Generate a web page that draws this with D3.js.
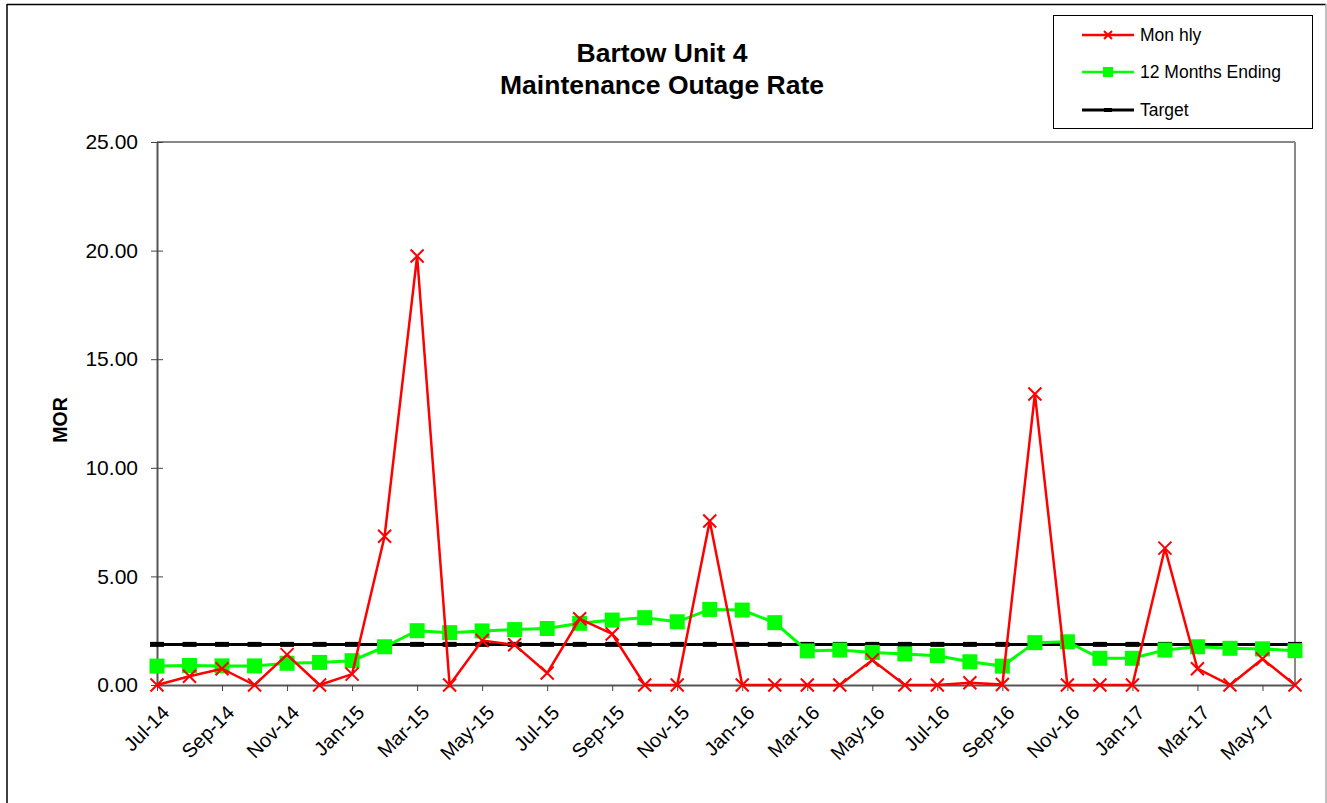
<!DOCTYPE html>
<html><head><meta charset="utf-8">
<script src="https://cdn.jsdelivr.net/npm/d3@7"></script>
<style>body{margin:0;background:#fff;font-family:Arial,"Liberation Sans",sans-serif;}</style>
</head><body>
<svg id="c" width="1327" height="803"></svg>
<script>
const categories = ["Jul-14","Aug-14","Sep-14","Oct-14","Nov-14","Dec-14","Jan-15","Feb-15","Mar-15","Apr-15","May-15","Jun-15",
"Jul-15","Aug-15","Sep-15","Oct-15","Nov-15","Dec-15","Jan-16","Feb-16","Mar-16","Apr-16","May-16","Jun-16",
"Jul-16","Aug-16","Sep-16","Oct-16","Nov-16","Dec-16","Jan-17","Feb-17","Mar-17","Apr-17","May-17","Jun-17"];
const monthly = [0,0.4,0.75,0,1.4,0,0.5,6.85,19.75,0,2.05,1.85,
0.55,3.05,2.35,0,0,7.55,0,0,0,0,1.15,0,
0,0.1,0.02,13.4,0,0,0,6.3,0.75,0,1.2,0];
const twelveMonths = [0.87,0.9,0.88,0.88,1.0,1.04,1.12,1.76,2.5,2.41,2.49,2.55,
2.6,2.84,2.99,3.1,2.91,3.48,3.45,2.87,1.57,1.61,1.5,1.43,
1.35,1.07,0.87,1.95,1.99,1.23,1.23,1.61,1.76,1.69,1.66,1.58];
const target = categories.map(() => 1.87);
const yTicks = [0,5,10,15,20,25];
const seriesNames = ["Mon hly","12 Months Ending","Target"];

const FONT = "Arial, Liberation Sans, sans-serif";
const svg = d3.select("#c");
const L=157,R=1295,T=142,B=685;
// outer border
svg.append("line").attr("x1",7).attr("x2",7).attr("y1",4).attr("y2",803).attr("stroke","#000").attr("stroke-width",1.5);
svg.append("line").attr("x1",7).attr("x2",1326).attr("y1",4.5).attr("y2",4.5).attr("stroke","#000").attr("stroke-width",1.5);
svg.append("line").attr("x1",1326).attr("x2",1326).attr("y1",4).attr("y2",803).attr("stroke","#aaa").attr("stroke-width",1.5);

const x = d3.scalePoint().domain(categories).range([L,R]);
const y = d3.scaleLinear().domain([0,25]).range([B,T]);

// plot frame
svg.append("line").attr("x1",L).attr("x2",R).attr("y1",T).attr("y2",T).attr("stroke","#888").attr("stroke-width",2);
svg.append("line").attr("x1",R).attr("x2",R).attr("y1",T).attr("y2",B).attr("stroke","#888").attr("stroke-width",2);

// y axis
const yAx = svg.append("g").attr("transform",`translate(${L},0)`)
  .call(d3.axisLeft(y).tickValues(yTicks).tickFormat(d3.format(".2f")).tickSizeInner(6).tickSizeOuter(0).tickPadding(13));
yAx.select(".domain").attr("stroke","#555").attr("stroke-width",2);
yAx.selectAll(".tick line").attr("stroke","#444").attr("x2",6).attr("x1",-6);
yAx.selectAll(".tick text").attr("font-size",21).attr("font-family",FONT).attr("fill","#000");

// x axis
const xAx = svg.append("g").attr("transform",`translate(0,${B})`)
  .call(d3.axisBottom(x).tickValues(categories.filter((d,i)=>i%2===0)).tickSizeInner(6).tickSizeOuter(0));
xAx.select(".domain").attr("stroke","#555").attr("stroke-width",2);
xAx.selectAll(".tick line").attr("stroke","#444");
xAx.selectAll(".tick text").attr("font-size",20).attr("font-family",FONT).attr("fill","#000")
  .attr("text-anchor","end").attr("x",0).attr("y",0).attr("dy",0).attr("transform","translate(13,29) rotate(-45)");

// lines
const line = d3.line().x((d,i)=>x(categories[i])).y(d=>y(d));
svg.append("path").datum(target).attr("d",line).attr("fill","none").attr("stroke","#000").attr("stroke-width",3);
svg.append("g").selectAll("rect").data(target).join("rect")
  .attr("x",(d,i)=>x(categories[i])-7).attr("y",d=>y(d)-2.5).attr("width",14).attr("height",5).attr("fill","#000");

svg.append("path").datum(twelveMonths).attr("d",line).attr("fill","none").attr("stroke","#00ff00").attr("stroke-width",3);
svg.append("g").selectAll("rect").data(twelveMonths).join("rect")
  .attr("x",(d,i)=>x(categories[i])-7.5).attr("y",d=>y(d)-7.5).attr("width",15).attr("height",15).attr("fill","#00ff00");

svg.append("path").datum(monthly).attr("d",line).attr("fill","none").attr("stroke","#ff0000").attr("stroke-width",2.5);
svg.append("g").selectAll("path").data(monthly).join("path")
  .attr("d",(d,i)=>{const cx=x(categories[i]),cy=y(d),s=6.5;return `M${cx-s},${cy-s}L${cx+s},${cy+s}M${cx-s},${cy+s}L${cx+s},${cy-s}`;})
  .attr("stroke","#ff0000").attr("stroke-width",2);

// title
svg.append("text").attr("x",662).attr("y",62).attr("text-anchor","middle").attr("font-size",26.5).attr("font-weight","bold").attr("font-family",FONT).text("Bartow Unit 4");
svg.append("text").attr("x",662).attr("y",94).attr("text-anchor","middle").attr("font-size",26.5).attr("font-weight","bold").attr("font-family",FONT).text("Maintenance Outage Rate");
// y label
svg.append("text").attr("transform","translate(67,420) rotate(-90)").attr("text-anchor","middle").attr("font-size",19.5).attr("font-weight","bold").attr("font-family",FONT).text("MOR");

// legend
const lg = svg.append("g");
lg.append("rect").attr("x",1053.5).attr("y",15.5).attr("width",259).attr("height",113).attr("fill","#fff").attr("stroke","#000").attr("stroke-width",1);
const ly=[35,72,110], lc=["#ff0000","#00ff00","#000"];
seriesNames.forEach((n,i)=>{
  lg.append("line").attr("x1",1082).attr("x2",1134).attr("y1",ly[i]).attr("y2",ly[i]).attr("stroke",lc[i]).attr("stroke-width",i===2?3:2.5);
  if(i===0){const cx=1108,cy=ly[i],s=4;lg.append("path").attr("d",`M${cx-s},${cy-s}L${cx+s},${cy+s}M${cx-s},${cy+s}L${cx+s},${cy-s}`).attr("stroke","#ff0000").attr("stroke-width",2);}
  if(i===1){lg.append("rect").attr("x",1103).attr("y",ly[i]-5).attr("width",10).attr("height",10).attr("fill","#00ff00");}
  if(i===2){lg.append("rect").attr("x",1104).attr("y",ly[i]-2).attr("width",8).attr("height",4).attr("fill","#000");}
  lg.append("text").attr("x",1140).attr("y",ly[i]+6).attr("font-size",17.5).attr("font-family",FONT).text(n);
});
</script>
</body></html>
